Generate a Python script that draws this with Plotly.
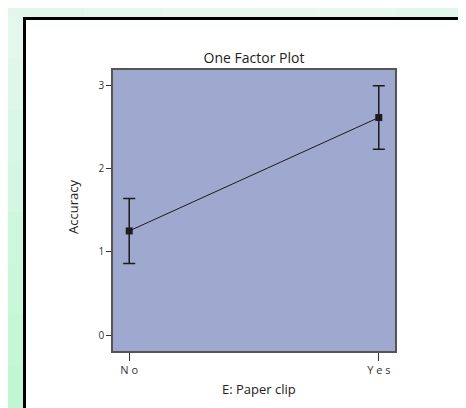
import plotly.graph_objects as go

# ---- data ----
categories = ["No", "Yes"]
tick_labels = ["N o", "Y e s"]
means = [1.25, 2.61]
errors = [0.39, 0.38]
y_ticks = [0, 1, 2, 3]

W, H = 466, 408
L, R, T, B = 105, 79, 62, 65
pw, ph = W - L - R, H - T - B

def px_x(p):
    return (p - L) / pw

def px_y(p):
    return (H - B - p) / ph

ink = "#1c1c1c"
fig = go.Figure(
    go.Scatter(
        x=list(range(len(categories))),
        y=means,
        mode="lines+markers",
        line=dict(color=ink, width=1),
        marker=dict(symbol="square", size=7, color=ink),
        error_y=dict(type="data", array=errors, color=ink, thickness=1.5, width=6),
        hovertext=categories,
        showlegend=False,
    )
)

shapes = []
# green gradient strips (top and left)
greens = ["#e4f7ee", "#dff7ea", "#d9f7e6", "#d3f7e2", "#cdf7dd", "#c8f7d9", "#c4f7d5", "#c1f6d2"]
n = len(greens)
for i, c in enumerate(greens):
    y0 = H * i / n
    y1 = H * (i + 1) / n
    shapes.append(dict(type="rect", xref="paper", yref="paper", x0=px_x(0), x1=px_x(15),
                       y0=px_y(y1), y1=px_y(y0), fillcolor=c, line=dict(width=0), layer="above"))
tops = ["#e2f6ec", "#e4f7ee", "#e6f8ef", "#e8f8f0", "#e6f8ef", "#e2f7ec"]
m = len(tops)
for i, c in enumerate(tops):
    x0 = W * i / m
    x1 = W * (i + 1) / m
    shapes.append(dict(type="rect", xref="paper", yref="paper", x0=px_x(x0), x1=px_x(x1),
                       y0=px_y(9), y1=px_y(0), fillcolor=c, line=dict(width=0), layer="above"))
# black frame
shapes.append(dict(type="line", xref="paper", yref="paper", x0=px_x(16.5), x1=px_x(16.5),
                   y0=px_y(H + 5), y1=px_y(9), line=dict(color="#000", width=3)))
shapes.append(dict(type="line", xref="paper", yref="paper", x0=px_x(15), x1=px_x(W),
                   y0=px_y(10.5), y1=px_y(10.5), line=dict(color="#000", width=3)))
shapes.append(dict(type="line", xref="paper", yref="paper", x0=px_x(464.5), x1=px_x(464.5),
                   y0=px_y(H + 5), y1=px_y(9), line=dict(color="#000", width=3)))

fig.update_layout(
    width=W, height=H,
    margin=dict(l=L, r=R, t=T, b=B),
    paper_bgcolor="white",
    plot_bgcolor="#9fa8cf",
    font=dict(family="Open Sans, sans-serif", color="#333333"),
    shapes=shapes,
    title=dict(text="One Factor Plot", x=0.5, xref="paper",
               y=1 - 50 / H, yanchor="middle", xanchor="center",
               font=dict(size=14, color="#222")),
    annotations=[
        dict(text="E: Paper clip", xref="paper", yref="paper", x=px_x(251), y=px_y(381),
             showarrow=False, xanchor="center", yanchor="middle", font=dict(size=13, color="#222")),
        dict(text="Accuracy", xref="paper", yref="paper", x=px_x(65), y=px_y(199),
             showarrow=False, textangle=-90, xanchor="center", yanchor="middle",
             font=dict(size=13, color="#222")),
    ],
    xaxis=dict(range=[-0.065, 1.065], tickvals=list(range(len(categories))), ticktext=tick_labels,
               ticks="outside", ticklen=8, tickcolor="#333", tickwidth=1,
               showgrid=False, zeroline=False, showline=True, linecolor="#555", linewidth=1.5,
               mirror=True, tickfont=dict(size=11, color="#333")),
    yaxis=dict(range=[-0.19, 3.18], tickvals=y_ticks, ticks="outside", ticklen=5,
               tickcolor="#333", tickwidth=1, showgrid=False, zeroline=False, showline=True,
               linecolor="#555", linewidth=1.5, mirror=True, tickfont=dict(size=10, color="#333")),
)

fig.write_html("out.html")
